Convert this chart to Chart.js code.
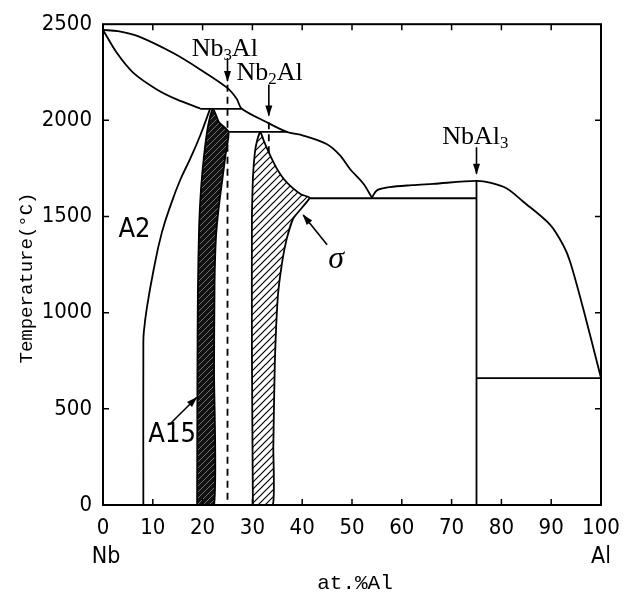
<!DOCTYPE html>
<html>
<head>
<meta charset="utf-8">
<script src="https://cdn.jsdelivr.net/npm/chart.js@4.4.1/dist/chart.umd.min.js"></script>
<style>
  html, body { margin: 0; padding: 0; background: #fff; }
</style>
</head>
<body>
<canvas id="phaseChart" width="634" height="599"></canvas>
<script>
// Nb-Al phase diagram: at.% Al vs temperature (°C)
const xTicks = [0, 10, 20, 30, 40, 50, 60, 70, 80, 90, 100];
const yTicks = [0, 500, 1000, 1500, 2000, 2500];

// boundary curves, [at.% Al, °C]
const liquidusLow = [[0, 2470], [3, 2464], [7, 2438], [14.1, 2350], [19.5, 2265], [24.9, 2170], [26.9, 2110], [27.8, 2062],
  [32.9, 1990], [36.9, 1940], [40.2, 1921], [44.9, 1877], [47.6, 1818], [49.6, 1747], [52.3, 1670], [54, 1598]];
const liquidusHigh = [[54, 1598], [55, 1636], [57.6, 1653], [62, 1663], [66.3, 1670], [75, 1685], [77.7, 1676],
  [81.1, 1646], [84.4, 1577], [89.8, 1457], [92.4, 1352], [93.8, 1265], [96.4, 1024], [100, 660]];
const solidusA2 = [[0, 2470], [2.8, 2350], [6.1, 2247], [10.8, 2161], [14.8, 2109], [19.5, 2062]];
const solvusA2 = [[21.5, 2060], [19.5, 1920], [17.5, 1800], [15.5, 1690], [13.8, 1575], [11.8, 1415],
  [10.1, 1214], [8.8, 1024], [8.2, 900], [8.1, 840], [8.1, 0]];
const line2060 = [[19.5, 2060], [27.8, 2060]];
const line1940 = [[25.2, 1940], [36.9, 1940]];
const line1595 = [[41.5, 1595], [75, 1595]];
const line660 = [[75, 660], [100, 660]];
const lineNbAl3 = [[75, 1685], [75, 0]];
const lineNb3Al = [[25, 2185], [25, 0]];
const lineNb2Al = [[33.3, 1990], [33.3, 0]];

// single phase regions (closed outlines)
const regionA15 = [[18.9, 0], [18.95, 600], [19.05, 1100], [19.3, 1450], [19.7, 1650], [20.3, 1820], [21.1, 1971],
  [22.1, 2060], [23.3, 1990], [25.2, 1940], [24.6, 1820], [24.0, 1700], [23.3, 1560], [22.7, 1400], [22.4, 1150],
  [22.3, 700], [22.3, 0], [18.9, 0]];
const regionSigma = [[30.1, 0], [29.9, 800], [29.9, 1500], [30.1, 1700], [30.5, 1834], [31.0, 1900], [31.6, 1940],
  [32.2, 1900], [33.0, 1850], [33.9, 1800], [35.0, 1745], [36.3, 1695], [38.0, 1650], [39.8, 1615], [41.5, 1597],
  [38.2, 1490], [36.9, 1385], [35.9, 1250], [35.1, 1080], [34.5, 734], [34.2, 300], [34.1, 0], [30.1, 0]];

// label arrows, tail -> head
const arrowNb3Al = [[25, 2324], [25, 2205]];
const arrowNb2Al = [[33.3, 2186], [33.3, 2025]];
const arrowNbAl3 = [[75, 1860], [75, 1722]];
const arrowSigma = [[45.0, 1353], [40.2, 1508]];
const arrowA15 = [[13.8, 430], [18.8, 559]];

const digitFont = "'DejaVu Sans Condensed', 'DejaVu Sans', sans-serif";
const serifFont = "'Liberation Serif', serif";
const monoFont = "'Liberation Mono', monospace";

// phase names: parts [text, subscript?], anchored at left baseline
const phaseLabels = [
  { parts: [['Nb'], ['3', true], ['Al']], x: 17.8, y: 2335 },
  { parts: [['Nb'], ['2', true], ['Al']], x: 26.8, y: 2211 },
  { parts: [['NbAl'], ['3', true]], x: 68.1, y: 1875 },
  { parts: [['A2']], x: 3.1, y: 1395, font: digitFont },
  { parts: [['A15']], x: 9.1, y: 325, font: digitFont }
];

function toPoints(arr) {
  return arr.map(([x, y]) => ({ x, y }));
}

function lineSet(arr, extra) {
  return Object.assign({
    data: toPoints(arr), borderColor: '#000', borderWidth: 1.8, pointRadius: 0,
    fill: false, tension: 0.3, clip: false
  }, extra);
}

// diagonal hatch fill
function hatch(bg, fg, gap, lw) {
  const c = document.createElement('canvas');
  c.width = gap; c.height = gap;
  const g = c.getContext('2d');
  g.fillStyle = bg;
  g.fillRect(0, 0, gap, gap);
  g.strokeStyle = fg;
  g.lineWidth = lw;
  g.beginPath();
  g.moveTo(0, gap); g.lineTo(gap, 0);
  g.moveTo(-gap / 2, gap / 2); g.lineTo(gap / 2, -gap / 2);
  g.moveTo(gap / 2, gap * 1.5); g.lineTo(gap * 1.5, gap / 2);
  g.stroke();
  return g.createPattern(c, 'repeat');
}

function drawParts(ctx, parts, x, y, family, size) {
  ctx.textBaseline = 'alphabetic';
  ctx.textAlign = 'left';
  parts.forEach(([text, sub]) => {
    ctx.font = (sub ? size * 0.65 : size) + 'px ' + family;
    ctx.fillText(text, x, sub ? y + 4 : y);
    x += ctx.measureText(text).width;
  });
}

const overlay = {
  id: 'overlay',
  afterDatasetsDraw(chart) {
    const { ctx, chartArea: area, scales: { x, y } } = chart;
    ctx.save();
    ctx.fillStyle = '#000';
    ctx.strokeStyle = '#000';

    // arrowheads at the end of arrow datasets
    chart.data.datasets.forEach((ds, i) => {
      if (!ds.arrow) return;
      const pts = chart.getDatasetMeta(i).data;
      const a = pts[pts.length - 2], b = pts[pts.length - 1];
      ctx.save();
      ctx.translate(b.x, b.y);
      ctx.rotate(Math.atan2(b.y - a.y, b.x - a.x));
      ctx.beginPath();
      ctx.moveTo(1, 0); ctx.lineTo(-10, -3.5); ctx.lineTo(-10, 3.5);
      ctx.closePath();
      ctx.fill();
      ctx.restore();
    });

    // frame and inward tick marks
    ctx.lineWidth = 2;
    ctx.strokeRect(area.left, area.top, area.right - area.left, area.bottom - area.top);
    ctx.lineWidth = 1.5;
    ctx.beginPath();
    xTicks.slice(1, -1).forEach(v => {
      const px = x.getPixelForValue(v);
      ctx.moveTo(px, area.bottom); ctx.lineTo(px, area.bottom - 6);
      ctx.moveTo(px, area.top); ctx.lineTo(px, area.top + 6);
    });
    yTicks.slice(1, -1).forEach(v => {
      const py = y.getPixelForValue(v);
      ctx.moveTo(area.left, py); ctx.lineTo(area.left + 6, py);
      ctx.moveTo(area.right, py); ctx.lineTo(area.right - 6, py);
    });
    ctx.stroke();

    // phase labels
    phaseLabels.forEach(l => {
      drawParts(ctx, l.parts, x.getPixelForValue(l.x), y.getPixelForValue(l.y), l.font || serifFont, l.font ? 27 : 26);
    });
    ctx.font = 'italic 32px ' + serifFont;
    ctx.textAlign = 'center';
    ctx.fillText('σ', x.getPixelForValue(46.8), y.getPixelForValue(1230));

    // axis titles and end members
    ctx.font = '23px ' + digitFont;
    ctx.textBaseline = 'middle';
    ctx.fillText('Nb', x.getPixelForValue(0) + 3, 557);
    ctx.fillText('Al', x.getPixelForValue(100), 557);
    ctx.font = '21px ' + monoFont;
    ctx.fillText('at.%Al', (area.left + area.right) / 2 + 3, 583);
    ctx.translate(27, 278);
    ctx.rotate(-Math.PI / 2);
    ctx.font = '19px ' + monoFont;
    ctx.fillText('Temperature(°C)', 0, 0);
    ctx.restore();
  }
};

const solid = { tension: 0 };
const dashed = { tension: 0, borderWidth: 1.8, borderDash: [7, 5] };
const arrow = { tension: 0, borderWidth: 1.6, arrow: true };

const datasets = [
  lineSet(regionA15, { fill: 'shape', backgroundColor: hatch('#111', '#9a9a9a', 6, 0.7), tension: 0.2 }),
  lineSet(regionSigma, { fill: 'shape', backgroundColor: hatch('#fff', '#000', 7, 1.2), tension: 0.15 }),
  lineSet(liquidusLow),
  lineSet(liquidusHigh),
  lineSet(solidusA2),
  lineSet(solvusA2, { tension: 0.45 }),
  lineSet(line2060, solid),
  lineSet(line1940, solid),
  lineSet(line1595, solid),
  lineSet(line660, solid),
  lineSet(lineNbAl3, solid),
  lineSet(lineNb3Al, dashed),
  lineSet(lineNb2Al, dashed),
  lineSet(arrowNb3Al, arrow),
  lineSet(arrowNb2Al, arrow),
  lineSet(arrowNbAl3, arrow),
  lineSet(arrowSigma, arrow),
  lineSet(arrowA15, arrow)
];

const hiddenAxis = (position, size) => ({
  type: 'linear', position, min: 0, max: position === 'top' ? 100 : 2500,
  ticks: { display: false },
  grid: { display: false, drawTicks: false },
  border: { display: false },
  afterFit: s => { if (s.isHorizontal()) s.height = size; else s.width = size; }
});

new Chart(document.getElementById('phaseChart').getContext('2d'), {
  type: 'line',
  data: { datasets },
  options: {
    responsive: false,
    animation: false,
    events: [],
    layout: { padding: 0 },
    plugins: { legend: { display: false }, tooltip: { enabled: false } },
    scales: {
      x: {
        type: 'linear', position: 'bottom', min: 0, max: 100,
        afterBuildTicks: s => { s.ticks = xTicks.map(v => ({ value: v })); },
        afterFit: s => { s.height = 94; },
        grid: { display: false, drawTicks: false },
        border: { display: false },
        ticks: { color: '#000', font: { family: digitFont, size: 22 }, padding: 10, maxRotation: 0, autoSkip: false,
          callback: v => String(v) }
      },
      y: {
        type: 'linear', position: 'left', min: 0, max: 2500,
        afterBuildTicks: s => { s.ticks = yTicks.map(v => ({ value: v })); },
        afterFit: s => { s.width = 103; },
        grid: { display: false, drawTicks: false },
        border: { display: false },
        ticks: { color: '#000', font: { family: digitFont, size: 22 }, padding: 11, autoSkip: false,
          callback: v => String(v) }
      },
      x2: hiddenAxis('top', 21),
      y2: hiddenAxis('right', 33)
    }
  },
  plugins: [overlay]
});
</script>
</body>
</html>
